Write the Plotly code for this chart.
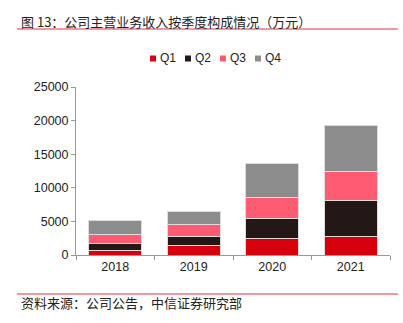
import plotly.graph_objects as go

years = ["2018", "2019", "2020", "2021"]
series_names = ["Q1", "Q2", "Q3", "Q4"]
q1 = [650, 1400, 2450, 2690]
q2 = [990, 1290, 2930, 5380]
q3 = [1350, 1850, 3200, 4340]
q4 = [2090, 1950, 5080, 6930]
y_ticks = [0, 5000, 10000, 15000, 20000, 25000]
y_tick_labels = ["0", "5000", "10000", "15000", "20000", "25000"]
colors = ["#d7000f", "#231815", "#ff5b73", "#8c8c8c"]

title_text = "图 13：公司主营业务收入按季度构成情况（万元）"
source_text = "资料来源：公司公告，中信证券研究部"

CJK = "Noto Sans CJK SC"
LAT = "Liberation Sans, Arial"

fig = go.Figure()
for name, vals, col in zip(series_names, [q1, q2, q3, q4], colors):
    fig.add_trace(go.Bar(
        x=years, y=vals, name=name,
        marker=dict(color=col, line=dict(color="#dcdcdc", width=1)),
        width=0.67,
    ))

W, H = 403, 323
L, R, T, B = 76, 13, 87, 68

fig.update_layout(
    barmode="stack",
    width=W, height=H,
    margin=dict(l=L, r=R, t=T, b=B),
    paper_bgcolor="white", plot_bgcolor="white",
    showlegend=False,
    font=dict(family=LAT, size=12, color="#222"),
    xaxis=dict(
        showline=True, linecolor="#999", linewidth=1,
        ticks="outside", ticklen=4, tickcolor="#999", tickson="boundaries",
        tickfont=dict(family=LAT, size=12.5, color="#222"),
        showgrid=False, fixedrange=True,
    ),
    yaxis=dict(
        range=[0, 25000], tickmode="array", tickvals=y_ticks, ticktext=y_tick_labels,
        showline=True, linecolor="#999", linewidth=1,
        ticks="outside", ticklen=4, tickcolor="#999",
        tickfont=dict(family=LAT, size=12.5, color="#222"),
        showgrid=False, zeroline=False, fixedrange=True,
    ),
)

def px_x(px):
    return (px - L) / (W - L - R)

def px_y(py):
    return (H - B - py) / (H - T - B)

# header / footer text and red rules
fig.add_annotation(text=title_text, xref="paper", yref="paper",
                   x=px_x(19), y=px_y(21), xanchor="left", yanchor="middle",
                   showarrow=False, font=dict(family=CJK, size=13, color="#222"))
fig.add_annotation(text=source_text, xref="paper", yref="paper",
                   x=px_x(19), y=px_y(302), xanchor="left", yanchor="middle",
                   showarrow=False, font=dict(family=CJK, size=13, color="#222"))
for yy in (29, 294):
    fig.add_shape(type="line", xref="paper", yref="paper",
                  x0=px_x(17), x1=px_x(398), y0=px_y(yy), y1=px_y(yy),
                  line=dict(color="#e0323c", width=1))

# compact legend
leg_x0 = 150
step = 35
for i, (name, col) in enumerate(zip(series_names, colors)):
    sx = leg_x0 + i * step
    fig.add_shape(type="rect", xref="paper", yref="paper",
                  x0=px_x(sx), x1=px_x(sx + 6), y0=px_y(55.5), y1=px_y(61.5),
                  fillcolor=col, line=dict(width=0))
    fig.add_annotation(text=name, xref="paper", yref="paper",
                       x=px_x(sx + 8), y=px_y(58.5), xanchor="left", yanchor="middle",
                       showarrow=False, font=dict(family=LAT, size=12, color="#222"))

fig.write_html("out.html", config={"displayModeBar": False})
